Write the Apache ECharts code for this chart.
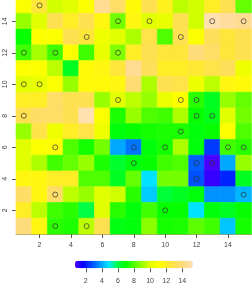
<!DOCTYPE html>
<html>
<head>
<meta charset="utf-8">
<script src="https://cdn.jsdelivr.net/npm/echarts@6/dist/echarts.min.js"></script>
<style>
  html, body { margin: 0; padding: 0; background: #fff; }
  #chart { width: 252px; height: 294px; }
</style>
</head>
<body>
<div id="chart"></div>
<script>
// grid cells: columns 1..15, rows 15 (top) .. 1 (bottom)
const xCells = [1, 2, 3, 4, 5, 6, 7, 8, 9, 10, 11, 12, 13, 14, 15];
const yCells = [15, 14, 13, 12, 11, 10, 9, 8, 7, 6, 5, 4, 3, 2, 1];

// cell values, one array per row, top row first
const zRows = [
  [11, 12.5, 9.8, 10, 11, 14.5, 13.5, 11.3, 13, 11.8, 9.5, 9.8, 12, 13, 8.3],
  [9, 10, 13, 12, 13, 11.5, 8.5, 11.5, 10, 10.2, 13, 9.8, 15.2, 14.8, 14.5],
  [7, 11, 11, 13, 12.5, 10.5, 10, 9.3, 12.8, 8, 13, 11, 13.2, 12.5, 13],
  [7.8, 9.2, 7.8, 11, 7.8, 10.2, 8.7, 12, 13, 12.5, 12.5, 14, 13.5, 12.5, 13],
  [11, 11, 9.5, 6.5, 11.3, 11.5, 12.5, 14.5, 13.2, 12, 12, 12.3, 12.8, 13.2, 10.5],
  [10, 10.2, 11, 9, 11.3, 11.3, 11.5, 13.8, 9.3, 13, 12.8, 10.4, 9.5, 11.5, 11.3],
  [12, 12, 13.5, 13, 13, 9, 10, 9.5, 9, 10.3, 11, 7.5, 6.5, 9, 8.3],
  [13, 13.5, 13.5, 13, 15.2, 11, 7.3, 9, 8, 7.8, 9.3, 7, 6.6, 10, 8.5],
  [9, 12.8, 10.5, 12, 12.8, 10.5, 6.8, 7, 7.2, 7.3, 7.3, 6.8, 7, 11, 8],
  [10, 11, 11.2, 8, 7.2, 8.5, 4, 3.3, 6.8, 7.2, 9.3, 6.8, 2.5, 7.8, 7.5],
  [10, 9.3, 7.8, 8.3, 9, 7.3, 6.3, 6.8, 7, 7.8, 8, 3, 0.7, 4, 9],
  [11.5, 11.5, 12, 12, 8, 8, 6.5, 8.3, 4.8, 8.5, 8.5, 2.8, 1, 2.2, 6.5],
  [13.5, 11.5, 13.5, 9.5, 9, 10, 9.8, 7.5, 4.5, 6.2, 6.5, 6.8, 3.7, 3.7, 4.2],
  [12, 9.5, 7.8, 7.5, 6, 10, 7.5, 6.8, 7.8, 7, 7, 4.8, 6.8, 6.5, 7],
  [14, 11.5, 7.5, 7.3, 9.5, 13, 6.7, 6.8, 8.8, 7.2, 7.3, 8.2, 7.8, 4.4, 7.2]
];

// marked cells (small circles)
const circleX = [2, 7, 9, 13, 15, 5, 11, 1, 3, 7, 1, 2, 7, 11, 12, 1, 12, 13, 11, 3, 8, 10, 14, 15, 8, 12, 13, 12, 3, 15, 10, 3, 5];
const circleY = [15, 14, 14, 14, 14, 13, 13, 12, 12, 12, 10, 10, 9, 9, 9, 8, 8, 8, 7, 6, 6, 6, 6, 6, 5, 5, 5, 4, 3, 3, 2, 1, 1];

const tickValues = [2, 4, 6, 8, 10, 12, 14];
const zMin = 0.66;
const zMax = 15.3;

// topo.colors ramp
const topoColors = [
  '#4D00FF', '#0000FF', '#004DFF', '#0099FF', '#00E6FF',
  '#00FF4D', '#00FF00', '#4DFF00', '#99FF00', '#E6FF00',
  '#FFFF00', '#FFEA2D', '#FFDE59', '#FFDB86', '#FFE0B3'
];

const cells = [];
yCells.forEach((y, r) => {
  xCells.forEach((x, c) => cells.push([x, y, zRows[r][c]]));
});
const circles = circleX.map((x, i) => [x, circleY[i]]);

const font = 'Liberation Sans, Arial, sans-serif';
const frameColor = '#a89c6c';
const tickColor = '#555';
const labelStyle = { fontSize: 7, color: '#444', fontFamily: font };

function renderCell(params, api) {
  const x = api.value(0);
  const y = api.value(1);
  const p0 = api.coord([x - 0.5, y + 0.5]);
  const p1 = api.coord([x + 0.5, y - 0.5]);
  const cs = params.coordSys;
  const rect = echarts.graphic.clipRectByRect(
    { x: p0[0], y: p0[1], width: p1[0] - p0[0], height: p1[1] - p0[1] },
    { x: cs.x, y: cs.y, width: cs.width, height: cs.height }
  );
  if (!rect) return;
  const c = api.visual('color');
  return { type: 'rect', shape: rect, style: { fill: c, stroke: c, lineWidth: 0.6 } };
}

const chart = echarts.init(document.getElementById('chart'), null, { renderer: 'canvas' });

chart.setOption({
  animation: false,
  backgroundColor: '#fff',
  textStyle: { fontFamily: font },
  grid: [
    { left: 16, top: -2.4, width: 235.5, height: 236.4, outerBoundsMode: 'none', containLabel: false },
    { left: 75, top: 260.7, width: 117.7, height: 7.6, outerBoundsMode: 'none', containLabel: false }
  ],
  xAxis: [
    {
      type: 'value', gridIndex: 0, min: 0.5, max: 15.5,
      axisLine: { show: true, onZero: false, lineStyle: { color: frameColor, width: 1 } },
      axisTick: { show: true, length: 4, customValues: tickValues, lineStyle: { color: tickColor } },
      axisLabel: { show: true, margin: 7.5, customValues: tickValues, ...labelStyle },
      splitLine: { show: false }
    },
    {
      type: 'value', gridIndex: 1, min: zMin, max: zMax, position: 'bottom',
      axisLine: { show: false },
      axisTick: { show: true, length: 4, customValues: tickValues, lineStyle: { color: tickColor } },
      axisLabel: { show: true, margin: 9, customValues: tickValues, ...labelStyle },
      splitLine: { show: false }
    }
  ],
  yAxis: [
    {
      type: 'value', gridIndex: 0, min: 0.5, max: 15.5,
      axisLine: { show: true, onZero: false, lineStyle: { color: frameColor, width: 1 } },
      axisTick: { show: true, length: 4, customValues: tickValues, lineStyle: { color: tickColor } },
      axisLabel: { show: true, margin: 7, rotate: 90, customValues: tickValues, ...labelStyle },
      splitLine: { show: false }
    },
    { type: 'value', gridIndex: 1, show: false, min: 0, max: 1 }
  ],
  visualMap: {
    type: 'continuous',
    seriesIndex: 0,
    dimension: 2,
    min: zMin,
    max: zMax,
    orient: 'horizontal',
    left: 75,
    top: 260.7,
    itemWidth: 7.6,
    itemHeight: 117.7,
    padding: 0,
    calculable: false,
    hoverLink: false,
    text: null,
    inRange: { color: topoColors }
  },
  series: [
    {
      type: 'custom',
      xAxisIndex: 0,
      yAxisIndex: 0,
      renderItem: renderCell,
      dimensions: ['x', 'y', 'z'],
      encode: { x: 0, y: 1 },
      data: cells,
      silent: true
    },
    {
      type: 'scatter',
      xAxisIndex: 0,
      yAxisIndex: 0,
      symbol: 'circle',
      symbolSize: 5,
      itemStyle: { color: 'transparent', borderColor: '#333', borderWidth: 0.9 },
      data: circles,
      silent: true,
      z: 5
    }
  ]
});
</script>
</body>
</html>
